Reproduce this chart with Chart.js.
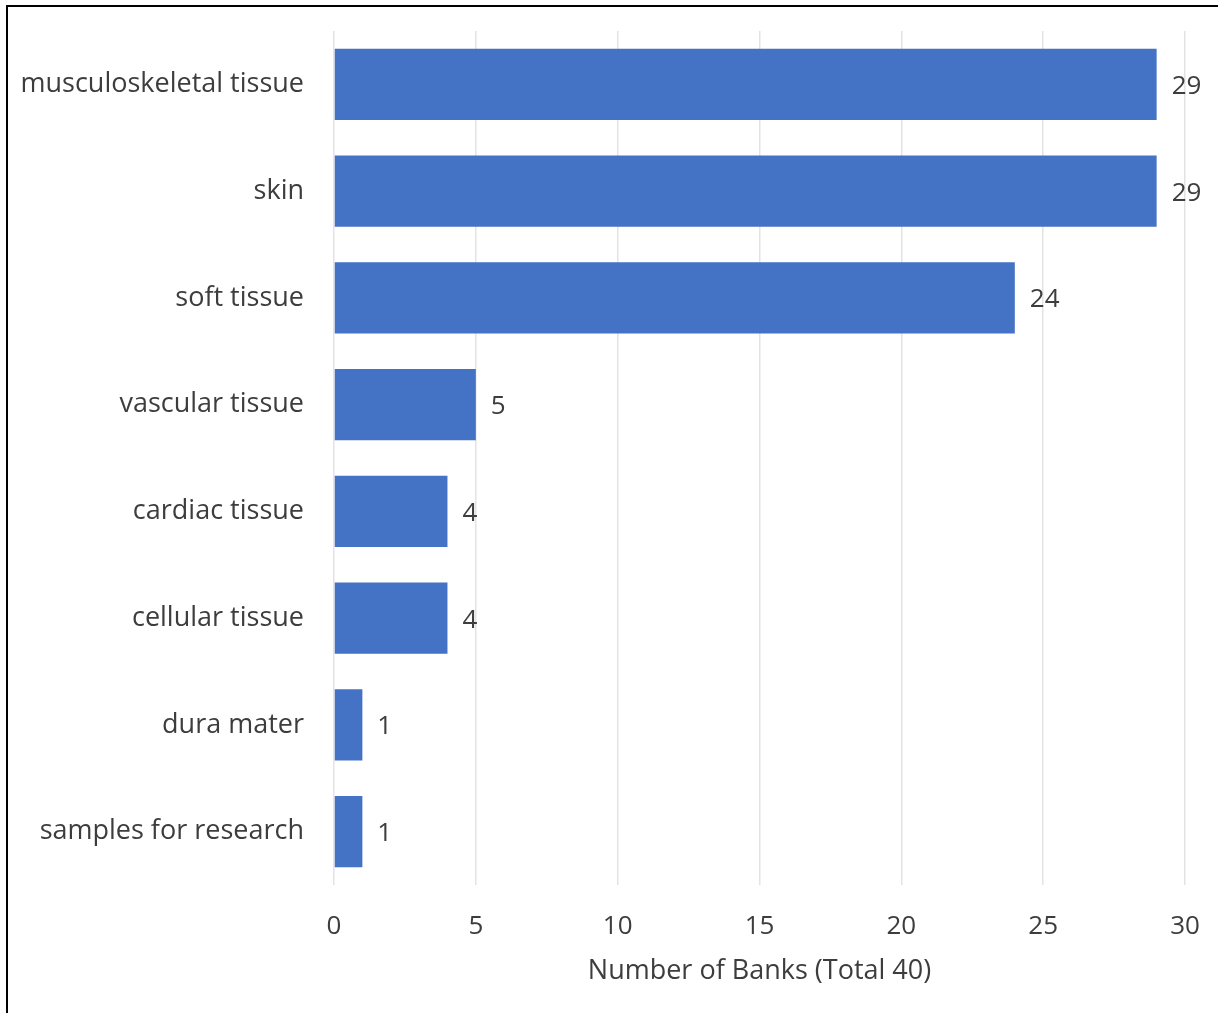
<!DOCTYPE html>
<html>
<head>
<meta charset="utf-8">
<title>Number of Banks</title>
<script src="https://cdn.jsdelivr.net/npm/chart.js@4.4.1/dist/chart.umd.min.js"></script>
<style>
    html, body {
        margin: 0;
        padding: 0;
        background: #fff;
        overflow: hidden;
    }
    .wrap {
        position: relative;
        width: 1218px;
        height: 1013px;
    }
    .frame {
        position: absolute;
        left: 6px;
        top: 5px;
        right: 0;
        bottom: 0;
        border-left: 2px solid #000;
        border-top: 2px solid #000;
        pointer-events: none;
    }
    #banksChart {
        position: absolute;
        left: 0;
        top: 0;
    }
</style>
</head>
<body>
<div class="wrap">
    <canvas id="banksChart" width="1218" height="1013"></canvas>
    <div class="frame"></div>
</div>
<script>
// ============================ data ==============================
const categories = [
    'musculoskeletal tissue',
    'skin',
    'soft tissue',
    'vascular tissue',
    'cardiac tissue',
    'cellular tissue',
    'dura mater',
    'samples for research'
];
const bankCounts = [29, 29, 24, 5, 4, 4, 1, 1];
const xTicks = [0, 5, 10, 15, 20, 25, 30];
const xTitle = 'Number of Banks (Total 40)';

// ============================ core ==============================
const FONT = '"Open Sans", Lato, sans-serif';
const TEXT_COLOR = '#3d3d3d';

// value label at the end of each bar
const barValueLabels = {
    id: 'barValueLabels',
    afterDatasetsDraw(chart) {
        const ctx = chart.ctx;
        const meta = chart.getDatasetMeta(0);
        ctx.save();
        ctx.font = '26px ' + FONT;
        ctx.fillStyle = TEXT_COLOR;
        ctx.textAlign = 'left';
        ctx.textBaseline = 'middle';
        meta.data.forEach((bar, i) => {
            ctx.fillText(String(bankCounts[i]), bar.x + 15, bar.y + 2);
        });
        ctx.restore();
    }
};

document.addEventListener('DOMContentLoaded', function () {
    const ctx = document.getElementById('banksChart').getContext('2d');
    new Chart(ctx, {
        type: 'bar',
        data: {
            labels: categories,
            datasets: [{
                data: bankCounts,
                backgroundColor: '#4472C4',
                borderWidth: 0,
                barPercentage: 0.667,
                categoryPercentage: 1
            }]
        },
        options: {
            indexAxis: 'y',
            responsive: false,
            animation: false,
            layout: {
                padding: {top: 31, right: 33, bottom: 0, left: 0}
            },
            plugins: {
                legend: {display: false},
                tooltip: {enabled: false}
            },
            scales: {
                x: {
                    min: 0,
                    max: 30,
                    afterBuildTicks: function (scale) {
                        scale.ticks = xTicks.map(v => ({value: v}));
                    },
                    afterFit: function (scale) {
                        scale.height = 128;
                        scale.paddingLeft = 0;
                        scale.paddingRight = 0;
                    },
                    grid: {
                        color: '#e3e3e3',
                        lineWidth: 1.5,
                        drawTicks: false
                    },
                    border: {display: false},
                    ticks: {
                        padding: 26,
                        color: TEXT_COLOR,
                        font: {size: 26, family: FONT}
                    },
                    title: {
                        display: true,
                        text: xTitle,
                        color: TEXT_COLOR,
                        font: {size: 27, family: FONT},
                        padding: {top: 0, bottom: 25}
                    }
                },
                y: {
                    afterFit: function (scale) {
                        scale.width = 334;
                        scale.paddingTop = 0;
                        scale.paddingBottom = 0;
                    },
                    grid: {
                        display: false,
                        drawTicks: false
                    },
                    border: {display: false},
                    ticks: {
                        padding: 30,
                        color: TEXT_COLOR,
                        font: {size: 27, family: FONT}
                    }
                }
            }
        },
        plugins: [barValueLabels]
    });
});
// ========================== end core ==========================
</script>
</body>
</html>
